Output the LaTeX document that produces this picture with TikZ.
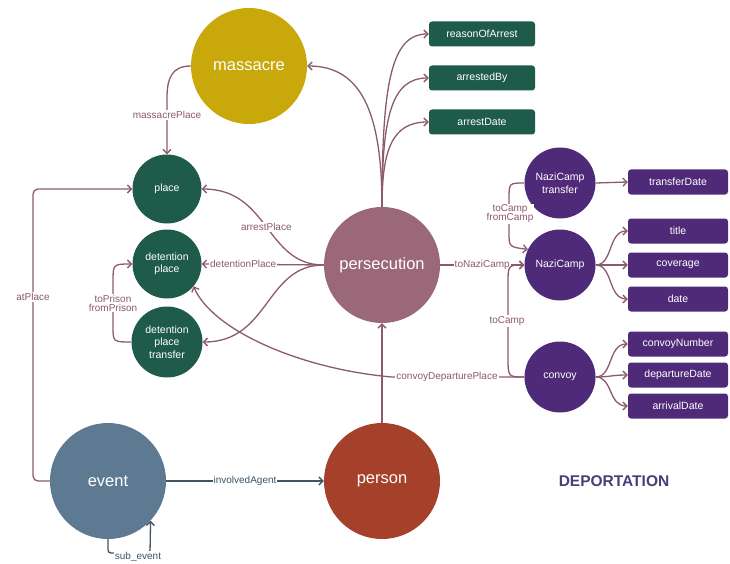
\documentclass[tikz,border=0pt]{standalone}
\usepackage{fontspec}
\setmainfont{Liberation Sans}
\usetikzlibrary{arrows.meta}

\definecolor{massacrec}{HTML}{C8A80A}
\definecolor{placec}{HTML}{1F5B4A}
\definecolor{persc}{HTML}{9A6878}
\definecolor{personc}{HTML}{A5402A}
\definecolor{eventc}{HTML}{5E7A93}
\definecolor{campc}{HTML}{4F2A78}
\definecolor{edgec}{HTML}{8B5A6D}
\definecolor{slatec}{HTML}{3E5566}
\definecolor{deportc}{HTML}{4A3D78}

\tikzset{
  bigc/.style={circle, minimum size=116pt, inner sep=0pt, text=white,
    font=\fontsize{16.5}{18}\selectfont},
  smallc/.style={circle, minimum size=69pt, inner sep=0pt, text=white,
    align=center, font=\fontsize{10.5}{12.5}\selectfont},
  greenbox/.style={fill=placec, rounded corners=3pt, minimum width=106pt,
    minimum height=25pt, inner sep=0pt, text=white,
    font=\fontsize{10.5}{12}\selectfont},
  purplebox/.style={fill=campc, rounded corners=3pt, minimum width=100pt,
    minimum height=25pt, inner sep=0pt, text=white,
    font=\fontsize{10.5}{12}\selectfont},
  edge/.style={draw=edgec, line width=1.3pt,
    -{Straight Barb[length=4pt,width=8pt]}},
  darkedge/.style={edge, draw=slatec},
  elabel/.style={fill=white, text=edgec, inner sep=1pt, align=center,
    font=\fontsize{10}{11}\selectfont},
  darklabel/.style={elabel, text=slatec},
}

\begin{document}
\begin{tikzpicture}[x=1pt,y=-1pt]
\useasboundingbox (0,0) rectangle (730,564);

% ---- nodes ----
\node[bigc, fill=massacrec] (massacre) at (249,66) {massacre};
\node[bigc, fill=persc] (pers) at (382,265) {persecution};
\node[bigc, fill=personc] (person) at (382,481) {person};
\node[bigc, fill=eventc] (event) at (108,481) {event};

\node[smallc, fill=placec] (place) at (167,189) {place};
\node[smallc, fill=placec] (dplace) at (167,264) {detention\\place};
\node[smallc, fill=placec, minimum size=71pt] (dtransfer) at (167,342) {detention\\place\\transfer};

\node[greenbox] (reason) at (482,34) {reasonOfArrest};
\node[greenbox] (arrby) at (482,78) {arrestedBy};
\node[greenbox] (arrdate) at (482,122) {arrestDate};

\node[smallc, fill=campc, minimum size=71pt] (campT) at (560,183) {NaziCamp\\transfer};
\node[smallc, fill=campc, minimum size=71pt] (camp) at (560,265) {NaziCamp};
\node[smallc, fill=campc, minimum size=71pt] (convoy) at (560,377) {convoy};

\node[purplebox] (tdate) at (678,182) {transferDate};
\node[purplebox] (title) at (678,231) {title};
\node[purplebox] (coverage) at (678,265) {coverage};
\node[purplebox] (date) at (678,299) {date};
\node[purplebox] (cnum) at (678,344) {convoyNumber};
\node[purplebox] (depdate) at (678,375) {departureDate};
\node[purplebox] (arrdate2) at (678,406) {arrivalDate};

\node[text=deportc, font=\bfseries\fontsize{15.5}{17}\selectfont] (deport) at (614,481) {DEPORTATION};

% ---- persecution fan upwards ----
\draw[edge] (pers.north) .. controls (382,110) and (360,66) .. (massacre.east);
\draw[edge] (pers.north) .. controls (382,80) and (392,34) .. (reason.west);
\draw[edge] (pers.north) .. controls (382,115) and (392,78) .. (arrby.west);
\draw[edge] (pers.north) .. controls (382,150) and (392,122) .. (arrdate.west);

% ---- persecution fan to the left ----
\draw[edge] (pers.west) .. controls (265,265) and (270,189) .. (place.east)
  node[elabel, pos=0.5] {arrestPlace};
\draw[edge] (pers.west) -- (dplace.east) node[elabel, pos=0.66] {detentionPlace};
\draw[edge] (pers.west) .. controls (265,265) and (270,342) .. (dtransfer.east);

% ---- massacre to place ----
\draw[edge] (massacre.west) .. controls (172,66) and (167,78) .. (167,98)
  -- (place.north) node[elabel, pos=0.3] {massacrePlace};

% ---- prison transfer ----
\draw[edge] (dtransfer.west) .. controls (113,342) .. (113,326) -- (113,282)
  .. controls (113,264) .. (dplace.west);
\node[elabel] (prisonlbl) at (113,303) {toPrison\\[-2pt]fromPrison};

% ---- event links ----
\draw[edge, rounded corners=5pt] (event.west) -- (33,481) -- (33,189) -- (place.west);
\node[elabel] (atplacelbl) at (33,297) {atPlace};
\draw[darkedge] (event.east) -- (person.west) node[darklabel, pos=0.5] {involvedAgent};
\draw[darkedge, rounded corners=3pt] (event.south) -- (108,553) -- (150,553) -- (event.-43.6);
\node[darklabel, fill=white] (sublbl) at (138,557) {sub\_event};
\draw[edge] (person.north) -- (pers.south);

% ---- deportation links ----
\draw[edge] (pers.east) -- (camp.west) node[elabel, pos=0.5] {toNaziCamp};
\draw[edge] (campT.west) .. controls (509,183) .. (509,199) -- (509,232)
  .. controls (509,247) .. (camp.154);
\node[elabel] (camplbl) at (510,214) {toCamp\\[-2pt]fromCamp};
\draw[edge] (convoy.west) .. controls (508,377) .. (508,357) -- (508,285)
  .. controls (508,265) .. (camp.west);
\node[elabel] (tocamplbl) at (507,321) {toCamp};
\draw[edge] (convoy.west) -- (392,377) .. controls (300,369) and (212,330) .. (dplace.-40);
\node[elabel] (cdplbl) at (447,377) {convoyDeparturePlace};

% ---- attribute boxes ----
\draw[edge] (campT.east) -- (tdate.west);
\draw[edge] (camp.east) .. controls (613,265) and (608,231) .. (title.west);
\draw[edge] (camp.east) -- (coverage.west);
\draw[edge] (camp.east) .. controls (613,265) and (608,299) .. (date.west);
\draw[edge] (convoy.east) .. controls (613,377) and (608,344) .. (cnum.west);
\draw[edge] (convoy.east) .. controls (610,377) and (612,375) .. (depdate.west);
\draw[edge] (convoy.east) .. controls (613,377) and (608,406) .. (arrdate2.west);
\end{tikzpicture}
\end{document}
